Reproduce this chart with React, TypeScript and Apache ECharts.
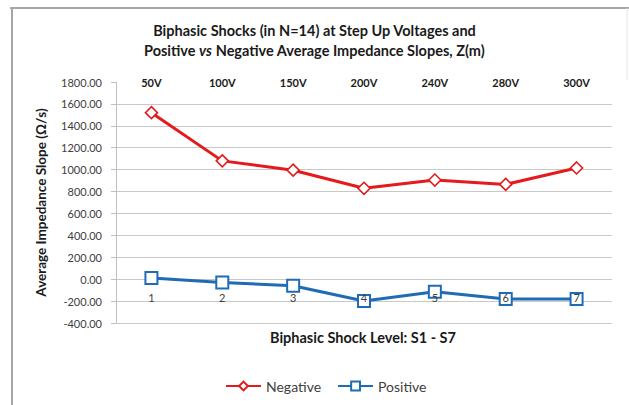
import React, { useEffect, useRef } from "react";
import * as echarts from "echarts";

const categories = ["1", "2", "3", "4", "5", "6", "7"];
const voltages = ["50V", "100V", "150V", "200V", "240V", "280V", "300V"];
const negative = [1520, 1080, 995, 830, 905, 865, 1015];
const positive = [10, -30, -60, -200, -115, -180, -180];

const FONT = "Lato, 'Open Sans', sans-serif";

export default function App() {
  const ref = useRef<HTMLDivElement>(null);
  useEffect(() => {
    if (!ref.current) return;
    const chart = echarts.init(ref.current, undefined, { renderer: "svg" });
    const gridColors: string[] = [];
    for (let i = 0; i < 11; i++) gridColors.push("#c8c8c8");
    gridColors.push("transparent");
    chart.setOption({
      animation: false,
      backgroundColor: "#ffffff",
      textStyle: { fontFamily: FONT },
      title: {
        left: "center",
        top: 15,
        text: "Biphasic Shocks (in N=14) at Step Up Voltages and\nPositive {i|vs} Negative Average Impedance Slopes, Z(m)",
        textStyle: {
          fontFamily: FONT,
          fontSize: 14.5,
          fontWeight: "bold",
          color: "#1a1a1a",
          lineHeight: 20,
          rich: {
            i: { fontFamily: FONT, fontSize: 14.5, fontWeight: "bold", fontStyle: "italic", color: "#1a1a1a", lineHeight: 20 },
          },
        },
      },
      grid: { left: 116, right: 17, top: 82, bottom: 82 },
      legend: {
        left: 220,
        top: 374,
        itemWidth: 35,
        itemHeight: 11,
        itemGap: 16,
        textStyle: { fontFamily: FONT, fontSize: 14, color: "#404040" },
        data: ["Negative", "Positive"],
      },
      xAxis: [
        {
          type: "category",
          data: categories,
          boundaryGap: true,
          z: 5,
          axisLine: { show: false, onZero: false },
          axisTick: { show: false },
          axisLabel: { margin: -31, fontSize: 11, color: "#404040", fontFamily: FONT },
          splitLine: { show: false },
        },
        {
          type: "category",
          data: voltages,
          position: "top",
          boundaryGap: true,
          axisLine: { show: false },
          axisTick: { show: false },
          axisLabel: { margin: -6, fontSize: 11, fontWeight: "bold", color: "#1a1a1a", fontFamily: FONT },
          splitLine: { show: false },
        },
      ],
      yAxis: {
        type: "value",
        min: -400,
        max: 1800,
        interval: 200,
        name: "Average Impedance Slope (Ω/s)",
        nameLocation: "middle",
        nameGap: 68,
        nameTextStyle: { fontFamily: FONT, fontSize: 13.5, fontWeight: "bold", color: "#1a1a1a" },
        axisLine: { show: true, lineStyle: { color: "#bfbfbf" } },
        axisTick: { show: true, length: 5, lineStyle: { color: "#bfbfbf" } },
        axisLabel: {
          margin: 14,
          fontSize: 11,
          color: "#404040",
          fontFamily: FONT,
          formatter: (v: number) => v.toFixed(2),
        },
        splitLine: { show: true, lineStyle: { color: gridColors, width: 1.2 } },
      },
      graphic: [
        {
          type: "text",
          x: 363,
          y: 337,
          style: {
            text: "Biphasic Shock Level: S1 - S7",
            fontFamily: FONT,
            fontSize: 14.5,
            fontWeight: "bold",
            fill: "#1a1a1a",
            align: "center",
            verticalAlign: "middle",
          },
        },
        { type: "line", shape: { x1: 10, y1: 8, x2: 629, y2: 8 }, style: { stroke: "#a6a6a6", lineWidth: 2 } },
        { type: "line", shape: { x1: 12, y1: 8, x2: 12, y2: 405 }, style: { stroke: "#a6a6a6", lineWidth: 2 } },
        { type: "line", shape: { x1: 627, y1: 8, x2: 627, y2: 80 }, style: { stroke: "#e6e6e6", lineWidth: 1 } },
      ],
      series: [
        {
          name: "Negative",
          type: "line",
          data: negative,
          symbol: "diamond",
          symbolSize: 12,
          z: 4,
          lineStyle: { color: "#e41a1c", width: 3 },
          itemStyle: { color: "#ffffff", borderColor: "#e41a1c", borderWidth: 1.6 },
          color: "#e41a1c",
        },
        {
          name: "Positive",
          type: "line",
          data: positive,
          symbol: "rect",
          symbolSize: 12,
          z: 3,
          lineStyle: { color: "#1f6cb5", width: 3 },
          itemStyle: { color: "#ffffff", borderColor: "#1f6cb5", borderWidth: 2 },
          color: "#1f6cb5",
        },
      ],
    });
    return () => chart.dispose();
  }, []);
  return <div ref={ref} style={{ position: "fixed", left: 0, top: 0, width: 629, height: 405 }} />;
}
